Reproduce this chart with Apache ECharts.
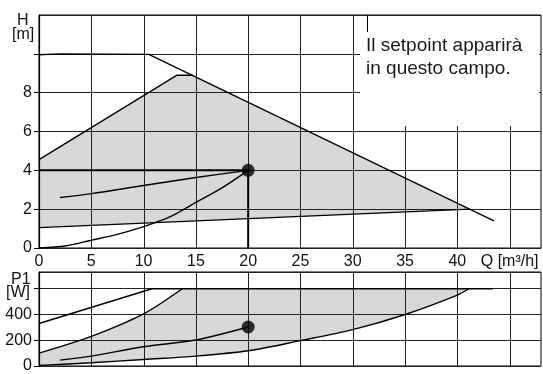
<!DOCTYPE html>
<html>
<head>
<meta charset="utf-8">
<script src="https://cdn.jsdelivr.net/npm/echarts@6/dist/echarts.min.js"></script>
<style>
  html, body { margin: 0; padding: 0; background: #fff; }
  #chart { width: 543px; height: 374px; }
</style>
</head>
<body>
<div id="chart"></div>
<script>
// --- Head chart H [m] vs Q [m3/h] ---
const maxCurve = [[0, 9.95], [2, 10.0], [10.5, 9.97], [43.5, 1.4]];
const areaHead = [[0, 1.05], [0, 4.55], [13.2, 8.9], [14.7, 8.9], [41.2, 2.0]];
const upperLeft = [[0, 4.55], [13.2, 8.9], [14.7, 8.9]];
const minLine = [[0, 1.05], [41.2, 2.0]];
const propCurve = [[2, 2.6], [5, 2.8], [10, 3.22], [15, 3.63], [20, 4]];
const systemCurve = [[0, 0], [2.5, 0.1], [5, 0.4], [7.5, 0.7], [10, 1.1], [12.5, 1.6], [15, 2.35], [17.5, 3.1], [20, 4]];
const dutyH = [[0, 4], [20, 4]];
const dutyV = [[20, 4], [20, 0]];
const dutyPoint = [[20, 4]];

// --- Power chart P1 [W] vs Q ---
const powerMax = [[0, 330], [10.8, 600], [43.4, 600]];
const powerUpper = [[0, 100], [5, 230], [10, 405], [13.7, 600]];
const powerProp = [[2, 46], [5, 77], [10, 150], [15, 202], [20, 303]];
const powerMin = [[0, 5], [5, 25], [10, 51], [15, 77], [20, 118], [25, 197], [30, 282], [35, 400], [40, 551], [41.1, 600]];
const powerDuty = [[20, 303]];

const qLabels = [0, 5, 10, 15, 20, 25, 30, 35, 40];
const qGrid = [5, 10, 15, 20, 25, 30, 35, 40, 45];
const hLabels = [0, 2, 4, 6, 8];
const pLabels = [0, 200, 400];

const areaPower = [[0, 5]].concat(powerUpper, [[41.1, 600]], powerMin.slice().reverse());

const font = "'Liberation Sans', Arial, sans-serif";
const gridColor = '#222';

const chart = echarts.init(document.getElementById('chart'));

// shaded operating range, kept under the grid lines
function polygon(points, xi) {
  return {
    type: 'custom',
    xAxisIndex: xi,
    yAxisIndex: xi,
    silent: true,
    z: -1,
    data: [[0, 0]],
    renderItem(params, api) {
      return {
        type: 'polygon',
        shape: { points: points.map((p) => api.coord(p)) },
        style: { fill: '#d8d8d8' },
      };
    },
  };
}

// vertical Q grid lines, one per tick
function qGridLines(xi, top) {
  return {
    type: 'custom',
    xAxisIndex: xi,
    yAxisIndex: xi,
    silent: true,
    z: 0,
    data: qGrid,
    renderItem(params, api) {
      const v = api.value(0);
      const a = api.coord([v, 0]);
      const b = api.coord([v, top]);
      const x = Math.round(a[0]) + 0.5;
      return {
        type: 'line',
        shape: { x1: x, y1: a[1], x2: x, y2: b[1] },
        style: { stroke: gridColor, lineWidth: 1 },
      };
    },
  };
}

function curve(data, xi, width, smooth) {
  return {
    type: 'line',
    xAxisIndex: xi,
    yAxisIndex: xi,
    data,
    z: 5,
    silent: true,
    smooth: smooth || false,
    showSymbol: false,
    lineStyle: { color: '#000', width: width || 1.4 },
  };
}

function dot(data, xi) {
  return {
    type: 'scatter',
    xAxisIndex: xi,
    yAxisIndex: xi,
    data,
    z: 6,
    symbolSize: 13,
    itemStyle: { color: '#000' },
  };
}

function xAxis(gi, showLabels) {
  return {
    type: 'value',
    gridIndex: gi,
    min: 0,
    max: 48,
    interval: 5,
    axisLine: { show: false },
    axisTick: { show: false },
    axisLabel: {
      show: showLabels,
      color: '#111',
      fontFamily: font,
      fontSize: 16,
      margin: 6,
      showMaxLabel: false,
      formatter(v) {
        if (v === 45) return 'Q [m³/h]';
        return qLabels.indexOf(v) >= 0 ? String(v) : '';
      },
    },
    splitLine: { show: false },
  };
}

function yAxis(gi, max, interval, labels) {
  return {
    type: 'value',
    gridIndex: gi,
    min: 0,
    max,
    interval,
    z: 2,
    axisLine: { show: true, onZero: false, lineStyle: { color: '#000', width: 1.2 } },
    axisTick: { show: true, length: 5, lineStyle: { color: '#000' } },
    axisLabel: {
      color: '#111',
      fontFamily: font,
      fontSize: 16,
      margin: 7,
      showMaxLabel: false,
      formatter(v) {
        return labels.indexOf(v) >= 0 ? String(v) : '';
      },
    },
    splitLine: { show: true, lineStyle: { color: gridColor, width: 1 } },
  };
}

const option = {
  animation: false,
  grid: [
    { left: 39, top: 15, width: 502, height: 233, show: true, borderColor: '#000', borderWidth: 1 },
    { left: 39, top: 272, width: 502, height: 101, show: true, borderColor: '#000', borderWidth: 1 },
  ],
  xAxis: [xAxis(0, true), xAxis(1, false)],
  yAxis: [yAxis(0, 12, 2, hLabels), yAxis(1, 730, 200, pLabels)],
  graphic: [
    { type: 'text', left: 17, top: 13, z: 100, style: { text: 'H', font: '16px ' + font, fill: '#111' } },
    { type: 'text', left: 12, top: 27, z: 100, style: { text: '[m]', font: '16px ' + font, fill: '#111' } },
    { type: 'text', left: 11, top: 272, z: 100, style: { text: 'P1', font: '16px ' + font, fill: '#111' } },
    { type: 'text', left: 6, top: 285, z: 100, style: { text: '[W]', font: '16px ' + font, fill: '#111' } },
    { type: 'rect', z: 100, shape: { x: 360, y: 16, width: 179, height: 110 }, style: { fill: '#fff' } },
    { type: 'line', z: 101, shape: { x1: 367.5, y1: 15, x2: 367.5, y2: 32 }, style: { stroke: '#000', lineWidth: 1 } },
    {
      type: 'text', left: 366, top: 34, z: 101,
      style: { text: 'Il setpoint apparirà\nin questo campo.', font: '19px ' + font, lineHeight: 23, fill: '#1a1a1a' },
    },
  ],
  series: [
    polygon(areaHead, 0),
    qGridLines(0, 12),
    curve(maxCurve, 0),
    curve(upperLeft, 0),
    curve(minLine, 0),
    curve(propCurve, 0, 1.4, 0.3),
    curve(systemCurve, 0, 1.4, 0.3),
    curve(dutyH, 0, 2),
    curve(dutyV, 0, 2),
    dot(dutyPoint, 0),
    polygon(areaPower, 1),
    qGridLines(1, 730),
    curve(powerMax, 1),
    curve(powerUpper, 1, 1.4, 0.3),
    curve(powerProp, 1, 1.4, 0.3),
    curve(powerMin, 1, 1.4, 0.3),
    dot(powerDuty, 1),
  ],
};

chart.setOption(option);
</script>
</body>
</html>
